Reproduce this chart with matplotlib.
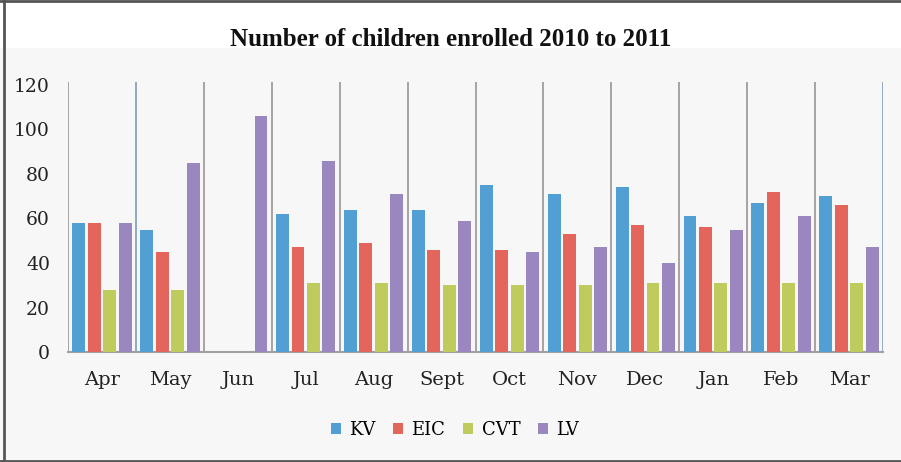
import numpy as np
import matplotlib
matplotlib.use("Agg")
import matplotlib.pyplot as plt
from matplotlib.patches import Rectangle

months = ["Apr", "May", "Jun", "Jul", "Aug", "Sept", "Oct", "Nov", "Dec", "Jan", "Feb", "Mar"]
kv = [58, 55, 0, 62, 64, 64, 75, 71, 74, 61, 67, 70]
eic = [58, 45, 0, 47, 49, 46, 46, 53, 57, 56, 72, 66]
cvt = [28, 28, 0, 31, 31, 30, 30, 30, 31, 31, 31, 31]
lv = [58, 85, 106, 86, 71, 59, 45, 47, 40, 55, 61, 47]
series = ["KV", "EIC", "CVT", "LV"]
colors = ["#519fd3", "#e4655b", "#bfcb5d", "#9a87bf"]
yticks = [0, 20, 40, 60, 80, 100, 120]

fig = plt.figure(figsize=(9.01, 4.62), dpi=100)
fig.patch.set_facecolor("#f7f7f7")
# white band behind the title
fig.patches.append(Rectangle((0, 0.897), 1, 0.103, transform=fig.transFigure,
                             facecolor="white", edgecolor="none", zorder=0))
# frame lines (top, left, bottom)
for xs, ys in [([0, 1], [0.998, 0.998]), ([0.004, 0.004], [0, 1]), ([0, 1], [0.002, 0.002])]:
    fig.add_artist(plt.Line2D(xs, ys, transform=fig.transFigure, color="#555555", lw=2))

ax = fig.add_axes([0.0755, 0.238, 0.9045, 0.585])
ax.set_facecolor("none")

x = np.arange(len(months))
w = 0.19
step = 0.228
for i, (vals, c, name) in enumerate(zip([kv, eic, cvt, lv], colors, series)):
    ax.bar(x + (i - 1.5) * step, vals, w, color=c, label=name, zorder=3)

# separators between months
for b in np.arange(-0.5, len(months), 1.0):
    c = "#8fa9c2" if b in (0.5, 11.5) else "#a8a2a2"
    ax.axvline(b, color=c, lw=1.4, zorder=2)

ax.set_xlim(-0.5, 11.5)
ax.set_ylim(0, 121.4)
ax.set_yticks(yticks)
ax.set_xticks(x)
ax.set_xticklabels(months)
for s in ["top", "right", "left"]:
    ax.spines[s].set_visible(False)
ax.spines["bottom"].set_color("#a0a0a0")
ax.spines["bottom"].set_linewidth(1.5)
ax.tick_params(axis="y", length=0, pad=13, labelsize=13.5)
ax.tick_params(axis="x", length=0, pad=14, labelsize=14)
for lab in ax.get_xticklabels() + ax.get_yticklabels():
    lab.set_family("DejaVu Serif")
    lab.set_color("#222222")

fig.text(0.5, 0.915, "Number of children enrolled 2010 to 2011", ha="center", va="center",
         family="Liberation Serif", fontweight="bold", fontsize=18, color="#111111")

fig.legend(loc="center", bbox_to_anchor=(0.505, 0.069), ncol=4, frameon=False,
           prop={"family": "DejaVu Serif", "size": 13}, handlelength=0.55, handleheight=0.55,
           handletextpad=0.45, columnspacing=1.0)

fig.savefig("out.png", dpi=100, facecolor=fig.get_facecolor())
